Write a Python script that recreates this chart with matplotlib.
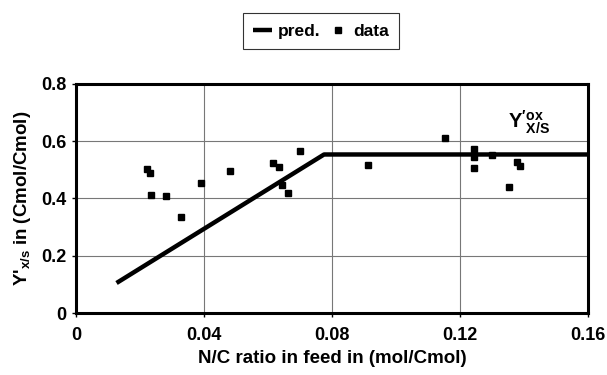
import matplotlib
matplotlib.use("Agg")
import matplotlib.pyplot as plt

plt.rcParams['font.family'] = ['Liberation Sans', 'DejaVu Sans']
plt.rcParams['font.weight'] = 'bold'
plt.rcParams['mathtext.fontset'] = 'custom'
plt.rcParams['mathtext.bf'] = 'Liberation Sans:bold'
plt.rcParams['mathtext.rm'] = 'Liberation Sans:bold'
plt.rcParams['mathtext.default'] = 'bf'

# predicted line (N/C ratio, yield)
pred_x = [0.0127, 0.0775, 0.160]
pred_y = [0.105, 0.553, 0.553]

# measured data
data_x = [0.0221, 0.0233, 0.0234, 0.0283, 0.0329, 0.0391, 0.0480, 0.0615,
          0.0634, 0.0645, 0.0661, 0.0701, 0.0913, 0.1152, 0.1243, 0.1243,
          0.1243, 0.1300, 0.1377, 0.1386, 0.1353]
data_y = [0.502, 0.487, 0.412, 0.408, 0.334, 0.455, 0.495, 0.525,
          0.511, 0.445, 0.418, 0.564, 0.518, 0.612, 0.571, 0.543,
          0.505, 0.551, 0.528, 0.513, 0.438]

xticks = [0, 0.04, 0.08, 0.12, 0.16]
xticklabels = ['0', '0.04', '0.08', '0.12', '0.16']
yticks = [0, 0.2, 0.4, 0.6, 0.8]
yticklabels = ['0', '0.2', '0.4', '0.6', '0.8']

fig = plt.figure(figsize=(6.07, 3.75), dpi=100)
ax = fig.add_axes([0.125, 0.165, 0.844, 0.612])

ax.grid(True, color='#777777', linewidth=0.8)
ax.set_axisbelow(True)
l1, = ax.plot(pred_x, pred_y, color='black', linewidth=3.2, solid_capstyle='butt', label='pred.')
l2, = ax.plot(data_x, data_y, linestyle='none', marker='s', markersize=4.8,
              color='black', label='data')

ax.set_xlim(0, 0.16)
ax.set_ylim(0, 0.8)
ax.set_xticks(xticks)
ax.set_xticklabels(xticklabels)
ax.set_yticks(yticks)
ax.set_yticklabels(yticklabels)
ax.tick_params(axis='both', labelsize=13, length=3, width=1, direction='out')
ax.tick_params(axis='x', pad=7)
for s in ax.spines.values():
    s.set_linewidth(2.2)

ax.set_xlabel('N/C ratio in feed in (mol/Cmol)', fontsize=13.5, fontweight='bold', labelpad=4)
ax.set_ylabel(r"Y'$_{\mathbf{x/s}}$ in (Cmol/Cmol)", fontsize=13.5, fontweight='bold', labelpad=6)

ax.text(0.1416, 0.665, r"$\mathbf{Y'}^{\mathbf{ox}}_{\mathbf{X/S}}$", fontsize=14.5,
        ha='center', va='center')

leg = fig.legend(handles=[l1, l2], loc='center', bbox_to_anchor=(0.529, 0.917), ncol=2,
                 frameon=True, fancybox=False, edgecolor='black', fontsize=12.5,
                 handlelength=1.1, handletextpad=0.3, columnspacing=0.5,
                 borderpad=0.6)
leg.get_frame().set_linewidth(0.8)

fig.savefig('out.png', dpi=100)
